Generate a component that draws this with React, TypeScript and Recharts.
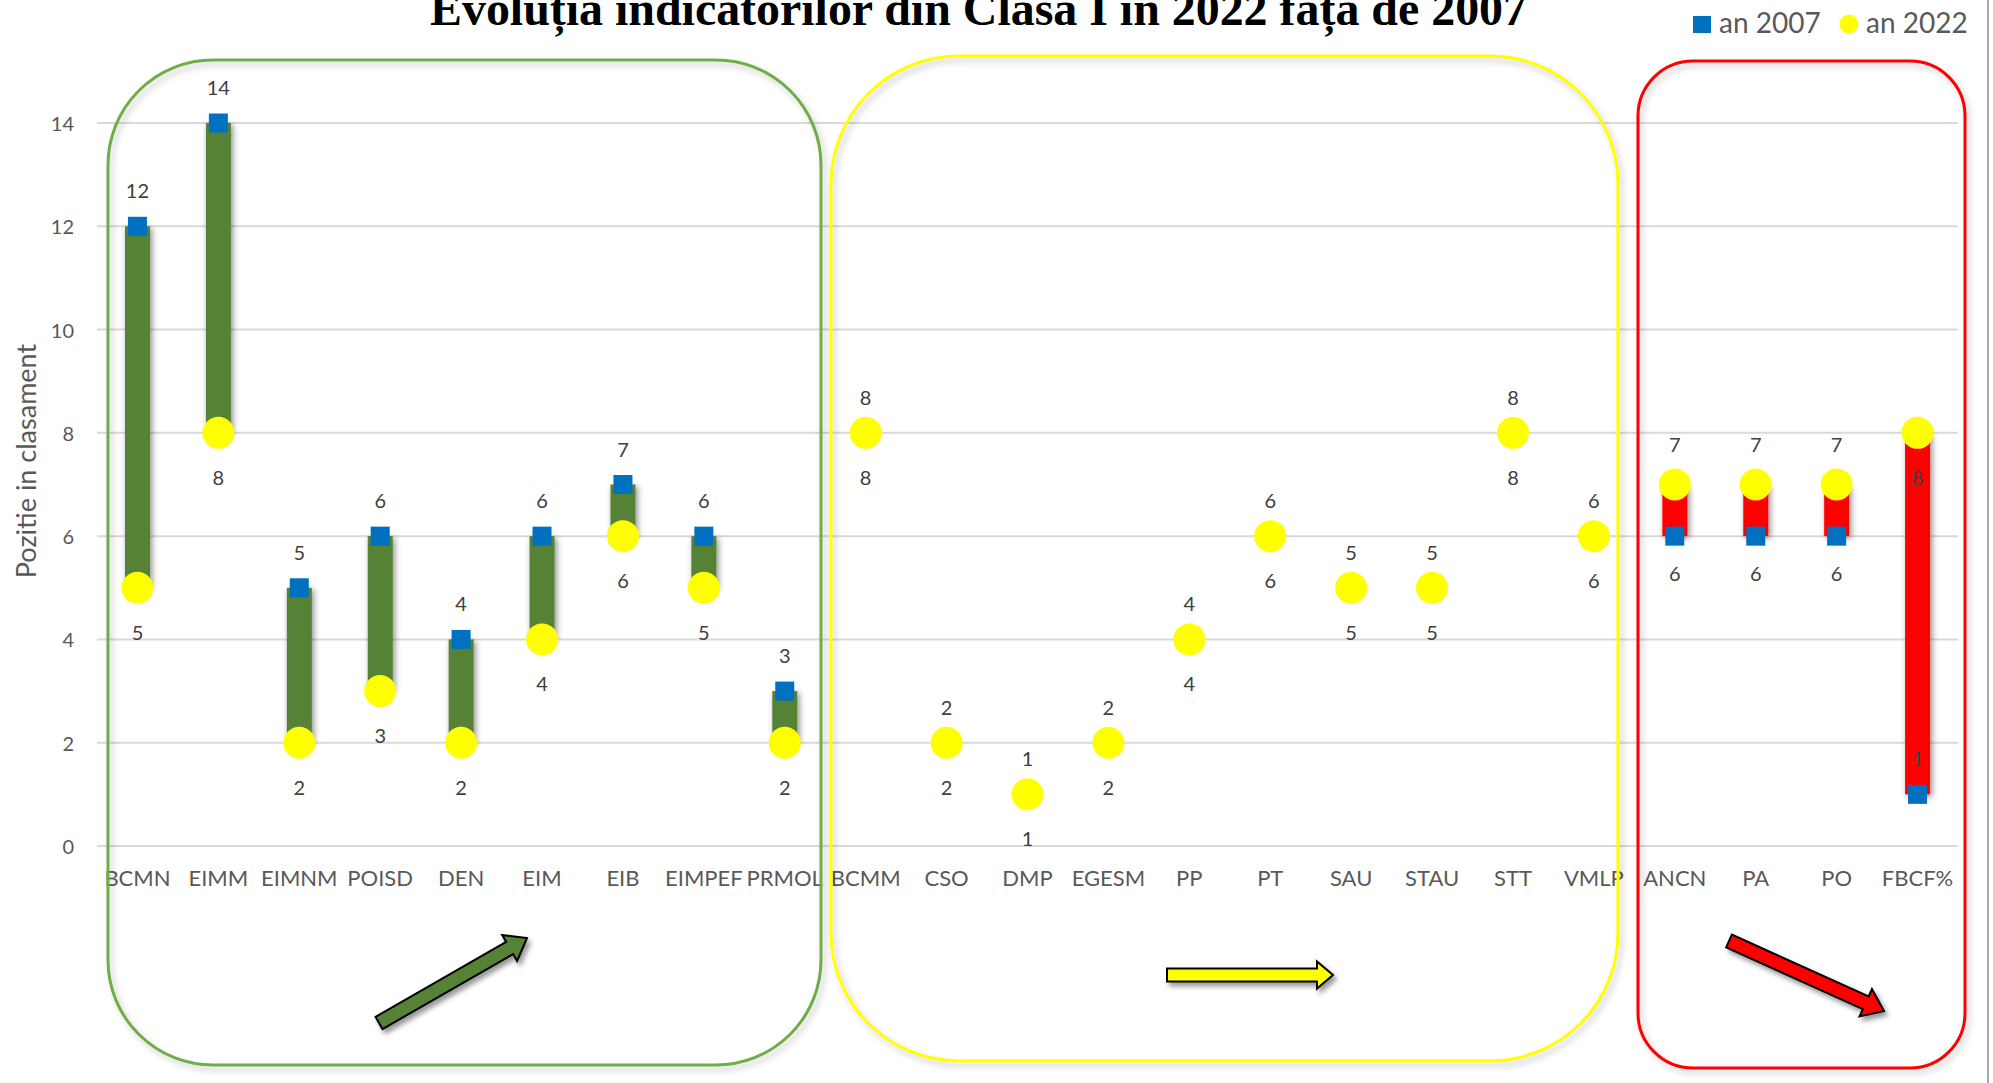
import React from 'react';
import { ComposedChart, Bar, Line, XAxis, YAxis, CartesianGrid } from 'recharts';

const CATEGORIES = [
  'BCMN', 'EIMM', 'EIMNM', 'POISD', 'DEN', 'EIM', 'EIB', 'EIMPEF', 'PRMOL',
  'BCMM', 'CSO', 'DMP', 'EGESM', 'PP', 'PT', 'SAU', 'STAU', 'STT', 'VMLP',
  'ANCN', 'PA', 'PO', 'FBCF%',
];
const AN_2007 = [12, 14, 5, 6, 4, 6, 7, 6, 3, 8, 2, 1, 2, 4, 6, 5, 5, 8, 6, 6, 6, 6, 1];
const AN_2022 = [5, 8, 2, 3, 2, 4, 6, 5, 2, 8, 2, 1, 2, 4, 6, 5, 5, 8, 6, 7, 7, 7, 8];
const Y_TICKS = [0, 2, 4, 6, 8, 10, 12, 14];
// etichete inversate (2022 deasupra, 2007 dedesubt)
const FLIPPED = ['ANCN', 'PA', 'PO'];

const W = 1993;
const H = 1083;

const GREEN = '#548235';
const RED = '#ff0000';
const BLUE = '#0070c0';
const YELLOW = '#ffff00';
const FONT = 'Lato, "Open Sans", sans-serif';

const data = CATEGORIES.map((name, i) => ({
  name,
  y2007: AN_2007[i],
  y2022: AN_2022[i],
  range: [Math.min(AN_2007[i], AN_2022[i]), Math.max(AN_2007[i], AN_2022[i])],
}));

function arrowPoints(x1: number, y1: number, x2: number, y2: number, shaft: number, head: number, headLen: number) {
  const len = Math.hypot(x2 - x1, y2 - y1);
  const ux = (x2 - x1) / len;
  const uy = (y2 - y1) / len;
  const nx = -uy;
  const ny = ux;
  const bx = x2 - ux * headLen;
  const by = y2 - uy * headLen;
  const s = shaft / 2;
  const h = head / 2;
  const pts = [
    [x1 + nx * s, y1 + ny * s],
    [bx + nx * s, by + ny * s],
    [bx + nx * h, by + ny * h],
    [x2, y2],
    [bx - nx * h, by - ny * h],
    [bx - nx * s, by - ny * s],
    [x1 - nx * s, y1 - ny * s],
  ];
  return pts.map((p) => p.join(',')).join(' ');
}

const labelStyle = { fontFamily: FONT, fontSize: 20, fill: '#404040' };

const RangeBar = (props: any) => {
  const { x, y, width, height, payload } = props;
  if (!height || Math.abs(height) < 1) return <g />;
  const fill = payload.y2007 > payload.y2022 ? GREEN : RED;
  return <rect x={x} y={y} width={width} height={height} fill={fill} filter="url(#barShadow)" />;
};

const Square2007 = (props: any) => {
  const { cx, cy, index, value } = props;
  if (cx == null || cy == null) return <g key={`s-${index}`} />;
  const flip = FLIPPED.includes(CATEGORIES[index]);
  return (
    <g key={`s-${index}`}>
      <rect x={cx - 9.5} y={cy - 9.5} width={19} height={19} fill={BLUE} />
      <text x={cx} y={cy + (flip ? 37 : -36)} textAnchor="middle" dominantBaseline="central" {...labelStyle}>
        {value}
      </text>
    </g>
  );
};

const Circle2022 = (props: any) => {
  const { cx, cy, index, value } = props;
  if (cx == null || cy == null) return <g key={`c-${index}`} />;
  const flip = FLIPPED.includes(CATEGORIES[index]);
  return (
    <g key={`c-${index}`}>
      <circle cx={cx} cy={cy} r={16} fill={YELLOW} />
      <text x={cx} y={cy + (flip ? -41 : 44)} textAnchor="middle" dominantBaseline="central" {...labelStyle}>
        {value}
      </text>
    </g>
  );
};

const CategoryTick = ({ x, y, payload }: any) => (
  <text x={x} y={y + 31} textAnchor="middle" dominantBaseline="central" fontFamily={FONT} fontSize={22} fill="#595959">
    {payload.value}
  </text>
);

const ValueTick = ({ x, y, payload }: any) => (
  <text x={x - 23} y={y} textAnchor="end" dominantBaseline="central" fontFamily={FONT} fontSize={20} fill="#595959">
    {payload.value}
  </text>
);

export default function App() {
  return (
    <div style={{ position: 'absolute', left: 0, top: 0, width: W, height: H, overflow: 'hidden', background: '#fff' }}>
      <div style={{ position: 'absolute', left: 0, top: 0 }}>
        <ComposedChart width={W} height={H} data={data} margin={{ top: 123, right: 35, bottom: 197, left: 37 }}>
          <CartesianGrid horizontal vertical={false} stroke="#d9d9d9" strokeWidth={2} />
          <XAxis dataKey="name" height={40} axisLine={false} tickLine={false} tickSize={0} tickMargin={0} tick={<CategoryTick />} interval={0} />
          <YAxis width={60} domain={[0, 14]} ticks={Y_TICKS} axisLine={false} tickLine={false} tickSize={0} tickMargin={0} tick={<ValueTick />} />
          <Bar dataKey="range" barSize={25} isAnimationActive={false} shape={<RangeBar />} />
          <Line dataKey="y2007" stroke="none" isAnimationActive={false} dot={Square2007} activeDot={false} />
          <Line dataKey="y2022" stroke="none" isAnimationActive={false} dot={Circle2022} activeDot={false} />
        </ComposedChart>
      </div>

      <svg width={W} height={H} style={{ position: 'absolute', left: 0, top: 0, pointerEvents: 'none' }}>
        <defs>
          <filter id="boxShadow" x="-10%" y="-10%" width="120%" height="120%">
            <feDropShadow dx="3" dy="4" stdDeviation="3" floodColor="#000" floodOpacity="0.22" />
          </filter>
          <filter id="barShadow" x="-50%" y="-10%" width="200%" height="120%">
            <feDropShadow dx="2" dy="2" stdDeviation="3" floodColor="#000" floodOpacity="0.45" />
          </filter>
          <filter id="arrowShadow" x="-20%" y="-50%" width="140%" height="200%">
            <feDropShadow dx="3" dy="4" stdDeviation="2.5" floodColor="#000" floodOpacity="0.4" />
          </filter>
        </defs>

        {/* Title */}
        <text
          x={430}
          y={25}
          textLength={1097}
          lengthAdjust="spacingAndGlyphs"
          fontFamily='"Liberation Serif", "Times New Roman", serif'
          fontWeight="bold"
          fontSize={48}
          fill="#000"
        >
          Evoluția indicatorilor din Clasa I în 2022 față de 2007
        </text>

        {/* Legend */}
        <rect x={1693} y={16} width={18} height={17} fill={BLUE} />
        <text x={1719} y={33} fontFamily={FONT} fontSize={28} fill="#595959">an 2007</text>
        <circle cx={1849} cy={24} r={9.5} fill={YELLOW} />
        <text x={1866} y={33} fontFamily={FONT} fontSize={28} fill="#595959">an 2022</text>

        {/* Group frames */}
        <rect x={108} y={60} width={713} height={1005} rx={105} ry={105} fill="none" stroke="#70ad47" strokeWidth={3} filter="url(#boxShadow)" />
        <rect x={831} y={56} width={787} height={1005} rx={128} ry={128} fill="none" stroke={YELLOW} strokeWidth={3} filter="url(#boxShadow)" />
        <rect x={1638} y={61} width={327} height={1007} rx={55} ry={55} fill="none" stroke={RED} strokeWidth={3} filter="url(#boxShadow)" />

        {/* Trend arrows */}
        <polygon points={arrowPoints(379, 1023, 527, 938, 14, 30, 20)} fill={GREEN} stroke="#000" strokeWidth={2} strokeLinejoin="miter" filter="url(#arrowShadow)" />
        <polygon points={arrowPoints(1167, 975, 1333, 975, 13, 27, 16)} fill={YELLOW} stroke="#000" strokeWidth={2} strokeLinejoin="miter" filter="url(#arrowShadow)" />
        <polygon points={arrowPoints(1729, 941, 1884, 1011, 14, 30, 20)} fill={RED} stroke="#000" strokeWidth={2} strokeLinejoin="miter" filter="url(#arrowShadow)" />

        {/* Axis title */}
        <text
          x={25}
          y={461}
          transform="rotate(-90 25 461)"
          textAnchor="middle"
          dominantBaseline="central"
          fontFamily={FONT}
          fontSize={27}
          fill="#595959"
        >
          Pozitie in clasament
        </text>

        <line x1={1988} y1={0} x2={1988} y2={H} stroke="#8c8c8c" strokeWidth={1.5} />
      </svg>
    </div>
  );
}
